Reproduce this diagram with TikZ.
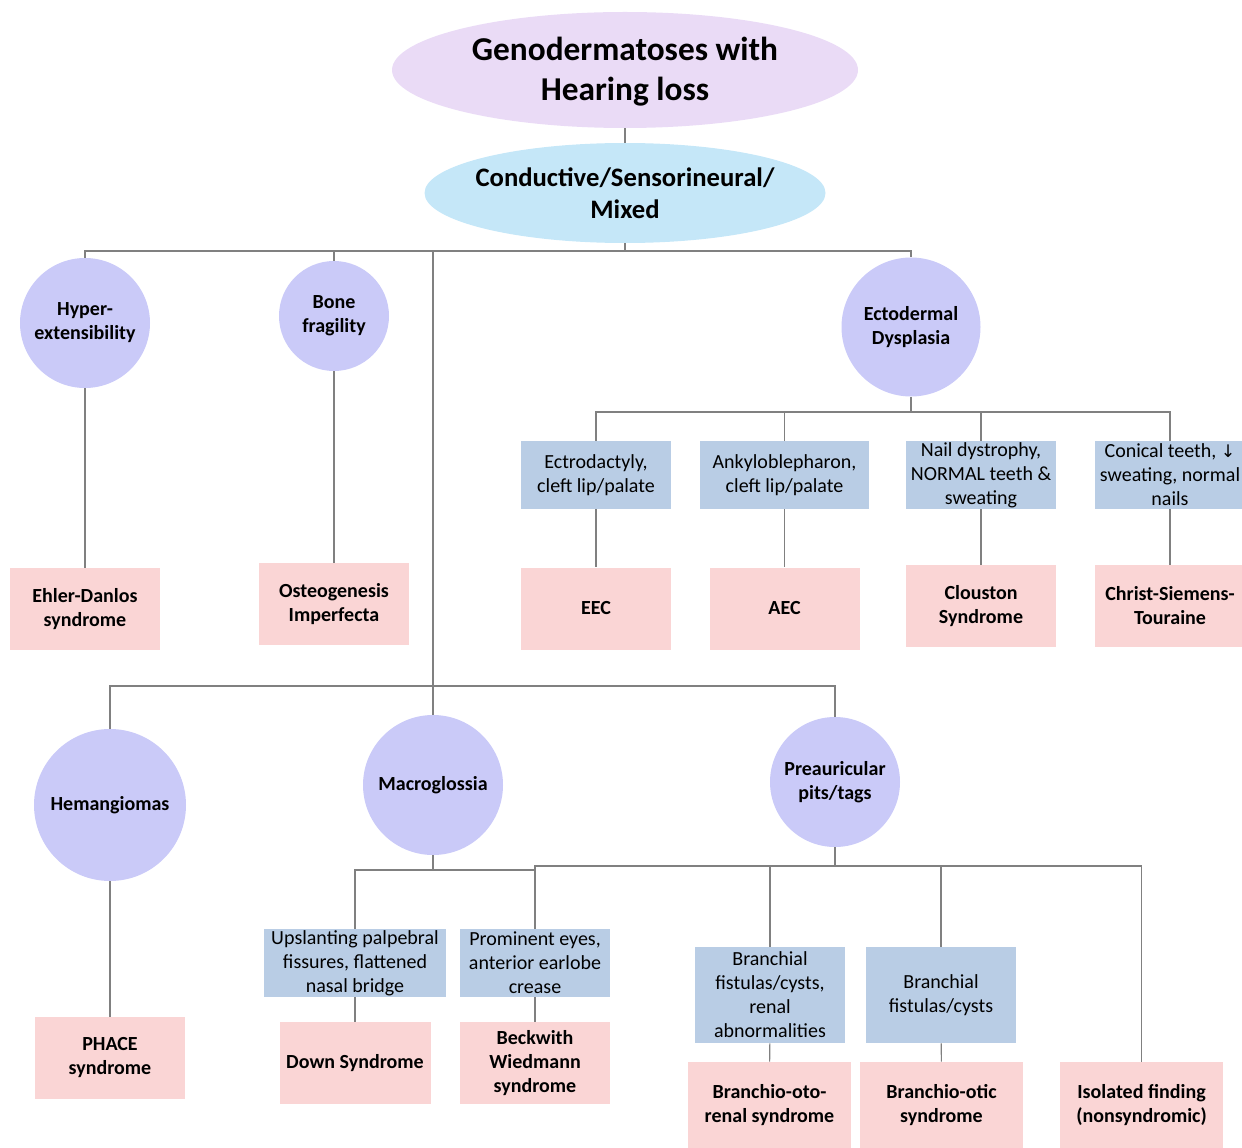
\documentclass[tikz,border=0pt]{standalone}
\usepackage{fontspec}
\setmainfont{Carlito}
\newfontfamily\symfont{DejaVu Sans}
\usetikzlibrary{shapes.geometric}

\definecolor{titlefill}{RGB}{234,219,246}
\definecolor{mixfill}{RGB}{197,231,248}
\definecolor{circfill}{RGB}{202,202,248}
\definecolor{bluefill}{RGB}{185,205,229}
\definecolor{pinkfill}{RGB}{250,213,213}
\definecolor{linkgray}{RGB}{128,128,128}

\tikzset{
  link/.style={draw=linkgray, line width=0.8pt},
  circ/.style={circle, fill=circfill, inner sep=0pt, align=center, font=\bfseries\fontsize{15pt}{18pt}\selectfont},
  bluebox/.style={rectangle, fill=bluefill, inner sep=1pt, align=center, minimum width=112.5pt, minimum height=51pt, font=\fontsize{15pt}{18pt}\selectfont},
  pinkbox/.style={rectangle, fill=pinkfill, inner sep=1pt, align=center, minimum width=112.5pt, minimum height=61.5pt, font=\bfseries\fontsize{15pt}{18pt}\selectfont}
}

\begin{document}
\begin{tikzpicture}[x=0.75pt,y=0.75pt,yscale=-1,xscale=1]
	\useasboundingbox (0,0) rectangle (1242,1148);
	%Shape: Ellipse [top]
	\node[ellipse, fill=titlefill, minimum width=349.5pt, minimum height=87pt] (top) at (625,70) {};
	\node[align=center, font=\bfseries\fontsize{25pt}{30pt}\selectfont] (toptext) at (625,72) {Genodermatoses with\\Hearing loss};
	%Shape: Ellipse [mixed]
	\node[ellipse, fill=mixfill, minimum width=300.75pt, minimum height=75pt] (mix) at (625,193) {};
	\node[align=center, font=\bfseries\fontsize{20pt}{24pt}\selectfont] (mixtext) at (625,193) {Conductive/Sensorineural/\\Mixed};
	% Circles
	\node[circ, minimum size=97.5pt] (hyp) at (85,323) {Hyper-\\extensibility};
	\node[circ, minimum size=82.5pt] (bon) at (334,316) {Bone\\fragility};
	\node[circ, minimum size=104.25pt] (ect) at (911,327) {Ectodermal\\Dysplasia};
	\node[circ, minimum size=114pt] (hem) at (110,805) {Hemangiomas};
	\node[circ, minimum size=105pt] (mac) at (433,785) {Macroglossia};
	\node[circ, minimum size=97.5pt] (pre) at (835,782) {Preauricular\\pits/tags};
	% Blue boxes
	\node[bluebox] (ecd) at (596,475) {Ectrodactyly,\\cleft lip/palate};
	\node[bluebox, minimum width=126.75pt] (ank) at (784.5,475) {Ankyloblepharon,\\cleft lip/palate};
	\node[bluebox] (nai) at (981,475) {Nail dystrophy,\\NORMAL teeth \&\\sweating};
	\node[bluebox] (con) at (1170,475) {Conical teeth, {\symfont\fontsize{13pt}{18pt}\selectfont ↓}\\sweating, normal\\nails};
	\node[bluebox, minimum width=136.5pt] (ups) at (355,963) {Upslanting palpebral\\fissures, flattened\\nasal bridge};
	\node[bluebox] (pro) at (535,963) {Prominent eyes,\\anterior earlobe\\crease};
	\node[bluebox, minimum height=72pt] (brr) at (770,995) {Branchial\\fistulas/cysts,\\renal\\abnormalities};
	\node[bluebox, minimum height=72pt] (brc) at (941,995) {Branchial\\fistulas/cysts};
	% Pink boxes
	\node[pinkbox] (ehl) at (85,609) {Ehler-Danlos\\syndrome};
	\node[pinkbox] (ost) at (334,604) {Osteogenesis\\Imperfecta};
	\node[pinkbox] (eec) at (596,608.5) {EEC};
	\node[pinkbox] (aec) at (784.5,608.5) {AEC};
	\node[pinkbox] (clo) at (981,606) {Clouston\\Syndrome};
	\node[pinkbox] (cst) at (1170,606) {Christ-Siemens-\\Touraine};
	\node[pinkbox] (pha) at (110,1058) {PHACE\\syndrome};
	\node[pinkbox, minimum width=113.25pt] (dow) at (355,1063) {Down Syndrome};
	\node[pinkbox] (bec) at (535,1063) {Beckwith\\Wiedmann\\syndrome};
	\node[pinkbox, minimum width=122.25pt, minimum height=64.5pt] (bor) at (769.5,1105) {Branchio-oto-\\renal syndrome};
	\node[pinkbox, minimum width=122.25pt, minimum height=64.5pt] (bot) at (941.5,1105) {Branchio-otic\\syndrome};
	\node[pinkbox, minimum width=122.25pt, minimum height=64.5pt] (iso) at (1141.5,1105) {Isolated finding\\(nonsyndromic)};
	% Junctions
	\coordinate (b1) at (625,251);
	\coordinate (b2) at (433,251);
	\coordinate (b3) at (433,686);
	\coordinate (b4) at (911,412);
	\coordinate (b5) at (433,870);
	\coordinate (b6) at (835,866);
	% Connectors
	\draw[link] (top) -- (mix);
	\draw[link] (mix) -- (b1);
	\draw[link] (b1) -| (hyp);
	\draw[link] (b1) -| (bon);
	\draw[link] (b1) -| (ect);
	\draw[link] (b2) -- (mac);
	\draw[link] (b3) -| (hem);
	\draw[link] (b3) -| (pre);
	\draw[link] (hyp) -- (ehl);
	\draw[link] (bon) -- (ost);
	\draw[link] (ect) -- (b4);
	\draw[link] (b4) -| (ecd);
	\draw[link] (b4) -| (ank);
	\draw[link] (b4) -| (nai);
	\draw[link] (b4) -| (con);
	\draw[link] (ecd) -- (eec);
	\draw[link] (ank) -- (aec);
	\draw[link] (nai) -- (clo);
	\draw[link] (con) -- (cst);
	\draw[link] (hem) -- (pha);
	\draw[link] (mac) -- (b5);
	\draw[link] (b5) -| (ups);
	\draw[link] (b5) -| (pro);
	\draw[link] (pre) -- (b6);
	\draw[link] (b6) -| (pro);
	\draw[link] (b6) -| (brr);
	\draw[link] (b6) -| (brc);
	\draw[link] (b6) -| (iso);
	\draw[link] (ups) -- (dow);
	\draw[link] (pro) -- (bec);
	\draw[link] (brr) -- (bor);
	\draw[link] (brc) -- (bot);
\end{tikzpicture}
\end{document}
